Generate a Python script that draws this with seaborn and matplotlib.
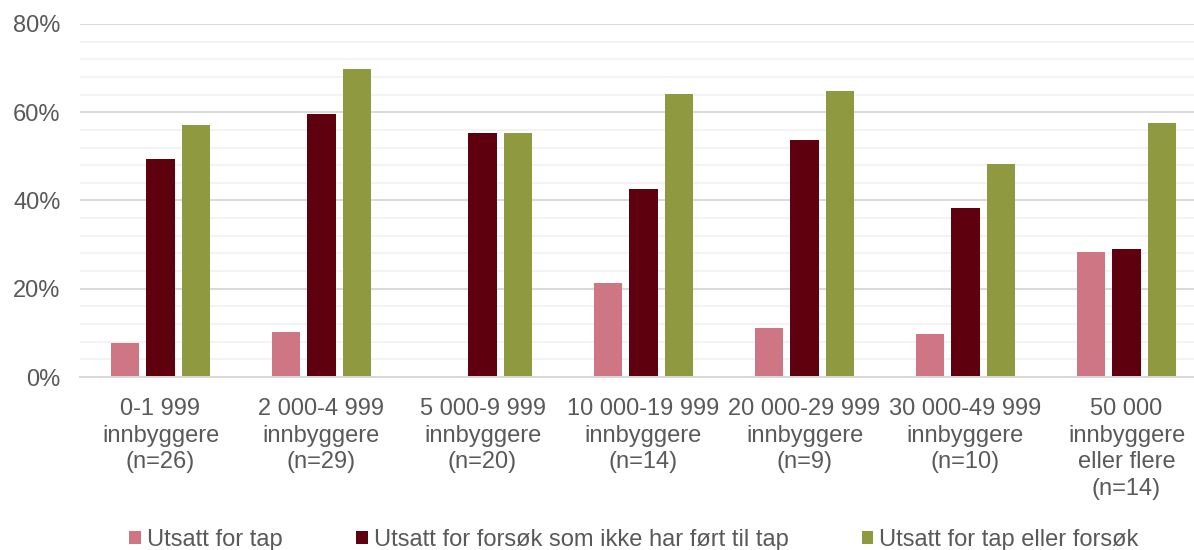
import matplotlib
matplotlib.use("Agg")
import matplotlib.pyplot as plt
from matplotlib.ticker import MultipleLocator, PercentFormatter
import seaborn as sns
import pandas as pd

categories = [
    "0-1 999\ninnbyggere\n(n=26)",
    "2 000-4 999\ninnbyggere\n(n=29)",
    "5 000-9 999\ninnbyggere\n(n=20)",
    "10 000-19 999\ninnbyggere\n(n=14)",
    "20 000-29 999\ninnbyggere\n(n=9)",
    "30 000-49 999\ninnbyggere\n(n=10)",
    "50 000\ninnbyggere\neller flere\n(n=14)",
]
series_names = [
    "Utsatt for tap",
    "Utsatt for forsøk som ikke har ført til tap",
    "Utsatt for tap eller forsøk",
]
tap = [7.6, 10.2, 0.0, 21.3, 11.0, 9.8, 28.4]
forsok = [49.3, 59.6, 55.4, 42.7, 53.7, 38.2, 29.0]
tap_eller_forsok = [57.0, 69.8, 55.4, 64.1, 64.9, 48.2, 57.5]
colors = ["#CE7683", "#5F000E", "#8E9940"]

rows = []
for name, vals in zip(series_names, [tap, forsok, tap_eller_forsok]):
    for cat, v in zip(categories, vals):
        rows.append({"Kategori": cat, "Serie": name, "Verdi": v})
df = pd.DataFrame(rows)

sns.set_theme(style="white")
plt.rcParams["font.family"] = ["Liberation Sans", "DejaVu Sans"]
text_color = "#595959"

fig = plt.figure(figsize=(11.94, 5.5), dpi=100)
ax = fig.add_axes([80 / 1194, (550 - 377) / 550, 1127 / 1194, 353 / 550])

sns.barplot(
    data=df, x="Kategori", y="Verdi", hue="Serie",
    order=categories, hue_order=series_names, palette=colors,
    width=0.666, gap=0.21, linewidth=0, saturation=1, ax=ax,
)

ax.set_ylim(0, 80)
ax.set_xlim(-0.5, 6.5)
ax.yaxis.set_major_locator(MultipleLocator(20))
ax.yaxis.set_minor_locator(MultipleLocator(4))
ax.yaxis.set_major_formatter(PercentFormatter(decimals=0))
ax.grid(which="major", axis="y", color="#D9D9D9", linewidth=1.4)
ax.grid(which="minor", axis="y", color="#F2F2F2", linewidth=1.3)
ax.set_axisbelow(True)
for s in ["top", "right", "left"]:
    ax.spines[s].set_visible(False)
ax.spines["bottom"].set_color("#D9D9D9")
ax.spines["bottom"].set_linewidth(1.4)
ax.set_xlabel("")
ax.set_ylabel("")
ax.tick_params(axis="y", which="both", length=0, pad=14, labelsize=17, labelcolor=text_color)
ax.tick_params(axis="x", length=0, pad=15, labelsize=17, labelcolor=text_color)
for lbl in ax.get_xticklabels():
    lbl.set_linespacing(1.28)
    lbl.set_horizontalalignment("center")

handles, labels = ax.get_legend_handles_labels()
ax.get_legend().remove()
fig.legend(
    handles, labels, loc="center", bbox_to_anchor=(634 / 1194, 1 - 540 / 550),
    ncol=3, frameon=False, fontsize=17, labelcolor=text_color,
    handlelength=0.5, handleheight=0.5, handletextpad=0.25, columnspacing=3.1,
    borderpad=0, borderaxespad=0,
)

fig.savefig("out.png", dpi=100)
